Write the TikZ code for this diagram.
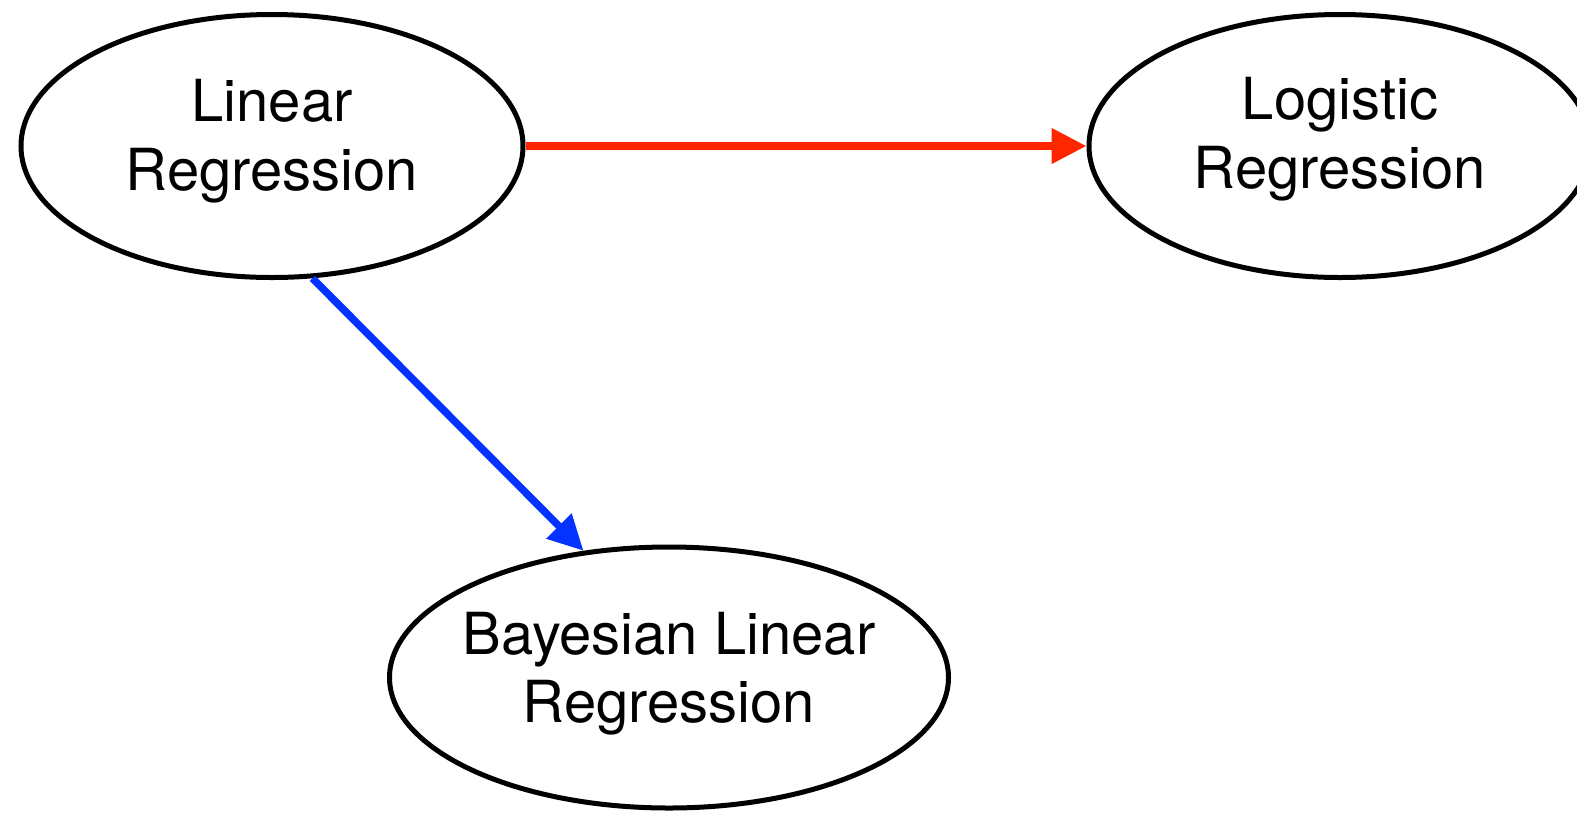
\documentclass[tikz,border=0pt]{standalone}
\usepackage{fontspec}
\setmainfont{TeX Gyre Heros}
\usetikzlibrary{arrows.meta,shapes.geometric}
\definecolor{arrred}{HTML}{FF2600}
\definecolor{arrblue}{HTML}{0433FF}
\begin{document}
\begin{tikzpicture}[x=1pt,y=-1pt,
  bubble/.style={ellipse,draw=black,line width=5pt,inner sep=0pt,fill=white},
  lbl/.style={align=center,inner sep=0pt,font=\fontsize{58}{68.5}\selectfont},
  conn/.style={line width=7.5pt,-{Triangle[length=35pt,width=34pt]}}]
\useasboundingbox (0,0) rectangle (1577,812);
\node[bubble,minimum width=502pt,minimum height=263pt] (lin) at (272,146) {};
\node[bubble,minimum width=502pt,minimum height=263pt] (log) at (1340,146) {};
\node[bubble,minimum width=559pt,minimum height=261pt] (bay) at (669,677.5) {};
\node[lbl] (linT) at ([yshift=5pt]lin.center) {Linear\\Regression};
\node[lbl] (logT) at ([yshift=7pt]log.center) {Logistic\\Regression};
\node[lbl] (bayT) at ([yshift=4pt]bay.center) {Bayesian Linear\\Regression};
\draw[conn,arrred] (lin.east) -- (log.west);
\draw[conn,arrblue] (lin.-73) -- (bay.124);
\end{tikzpicture}
\end{document}
